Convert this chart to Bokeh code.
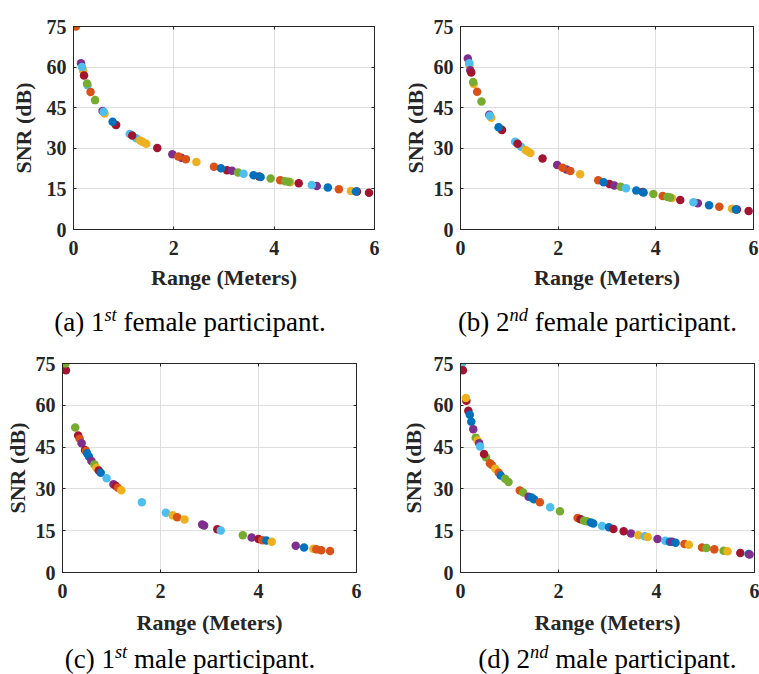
from bokeh.plotting import figure
from bokeh.models import (ColumnDataSource, LinearAxis, FixedTicker, Range1d, Div,
                          CustomJSTickFormatter)
from bokeh.layouts import column, row
from bokeh.transform import factor_cmap
from bokeh.embed import file_html
from bokeh.resources import INLINE

# MATLAB default colour order, indexed by measurement series id
PALETTE = ["#0072BD", "#D95319", "#EDB120", "#7E2F8E", "#77AC30", "#4DBEEE", "#A2142F"]
SERIES_IDS = ["0", "1", "2", "3", "4", "5", "6"]

X_TICKS = [0, 2, 4, 6]
Y_TICKS = [0, 15, 30, 45, 60, 75]
X_LABEL = "Range (Meters)"
Y_LABEL = "SNR (dB)"

# (a) 1st female participant
a_range = [0.05, 0.15, 0.19, 0.17, 0.21, 0.28, 0.27, 0.34, 0.43, 0.58, 0.62, 0.60,
           0.84, 0.85, 0.78, 1.12, 1.25, 1.17, 1.33, 1.38, 1.45, 1.67, 1.97, 2.15,
           2.09, 2.24, 2.45, 2.80, 3.06, 2.94, 3.16, 3.28, 3.39, 3.70, 3.59, 3.73,
           3.93, 4.12, 4.32, 4.22, 4.29, 4.49, 4.85, 4.75, 5.07, 5.29, 5.65, 5.53,
           5.63, 5.89]
a_snr = [75.0, 61.4, 58.7, 60.0, 56.9, 53.3, 53.9, 50.8, 47.8, 43.8, 42.9, 43.5,
         38.7, 38.6, 39.8, 35.3, 33.7, 34.7, 32.9, 32.3, 31.7, 30.1, 27.8, 26.5,
         27.0, 26.0, 24.9, 23.2, 21.9, 22.6, 21.7, 21.1, 20.6, 19.6, 20.0, 19.4,
         18.8, 18.2, 17.5, 17.8, 17.6, 17.1, 16.1, 16.4, 15.5, 14.9, 14.0, 14.2,
         14.0, 13.6]
a_series = [1, 3, 2, 5, 6, 5, 4, 1, 4, 3, 2, 5,
            4, 6, 0, 5, 5, 6, 2, 2, 2, 6, 3, 3,
            1, 1, 2, 1, 6, 0, 3, 4, 5, 6, 0, 0,
            4, 1, 2, 4, 4, 6, 3, 5, 0, 1, 6, 2,
            0, 6]

# (b) 2nd female participant
b_range = [0.15, 0.18, 0.18, 0.20, 0.22, 0.27, 0.26, 0.34, 0.43, 0.59, 0.63, 0.60,
           0.84, 0.85, 0.78, 1.12, 1.24, 1.17, 1.33, 1.38, 1.43, 1.68, 1.98, 2.17,
           2.09, 2.25, 2.45, 2.82, 3.05, 2.93, 3.15, 3.28, 3.39, 3.73, 3.60, 3.75,
           3.95, 4.14, 4.33, 4.24, 4.29, 4.50, 4.86, 4.77, 5.09, 5.30, 5.66, 5.56,
           5.64, 5.90]
b_snr = [63.2, 60.7, 61.4, 58.8, 58.0, 53.8, 54.5, 50.9, 47.3, 42.4, 41.3, 42.0,
         36.9, 36.8, 37.8, 32.4, 30.6, 31.7, 29.4, 28.8, 28.3, 26.2, 23.8, 22.2,
         22.8, 21.6, 20.4, 18.2, 16.8, 17.5, 16.3, 15.8, 15.2, 13.9, 14.4, 13.7,
         13.1, 12.4, 11.6, 12.0, 11.8, 10.9, 9.7, 10.1, 9.0, 8.4, 7.4, 7.7,
         7.4, 6.8]
b_series = [3, 2, 5, 3, 6, 2, 4, 1, 4, 3, 2, 5,
            4, 6, 0, 5, 5, 6, 2, 2, 2, 6, 3, 3,
            1, 1, 2, 1, 6, 0, 3, 4, 5, 6, 0, 0,
            4, 1, 2, 4, 4, 6, 3, 5, 0, 1, 6, 2,
            0, 6]

# (c) 1st male participant
c_range = [0.07, 0.06, 0.26, 0.32, 0.35, 0.39, 0.46, 0.48, 0.50, 0.54, 0.59, 0.65,
           0.69, 0.74, 0.78, 0.90, 1.04, 1.09, 1.13, 1.20, 1.62, 2.11, 2.25, 2.34,
           2.49, 2.85, 2.89, 3.16, 3.23, 3.68, 3.86, 4.00, 4.08, 4.16, 4.27, 4.76,
           4.93, 5.12, 5.18, 5.28, 5.46]
c_snr = [72.6, 75.0, 52.0, 49.2, 48.0, 46.4, 44.0, 43.6, 42.8, 41.6, 40.0, 38.8,
         37.6, 36.6, 35.8, 33.8, 31.7, 31.0, 30.4, 29.5, 25.2, 21.4, 20.5, 19.8,
         19.0, 17.2, 16.9, 15.5, 15.1, 13.4, 12.6, 12.0, 11.6, 11.5, 11.0, 9.6,
         9.0, 8.5, 8.3, 8.0, 7.7]
c_series = [6, 4, 4, 6, 1, 3, 6, 1, 0, 0, 3, 4,
            2, 6, 0, 5, 3, 6, 1, 2, 5, 5, 2, 1,
            2, 3, 3, 6, 5, 4, 3, 6, 1, 0, 2, 3,
            0, 2, 1, 1, 1]

# (d) 2nd male participant
d_range = [0.03, 0.05, 0.12, 0.11, 0.16, 0.19, 0.22, 0.26, 0.31, 0.35, 0.38, 0.40,
           0.52, 0.48, 0.60, 0.64, 0.71, 0.78, 0.82, 0.91, 0.98, 1.21, 1.28, 1.39,
           1.45, 1.50, 1.62, 1.83, 2.03, 2.39, 2.45, 2.52, 2.58, 2.66, 2.71, 2.89,
           3.03, 3.12, 3.33, 3.48, 3.63, 3.76, 3.82, 4.02, 4.18, 4.27, 4.32, 4.39,
           4.57, 4.66, 4.93, 5.02, 5.18, 5.37, 5.45, 5.71, 5.88, 5.90]
d_snr = [75.0, 72.6, 61.6, 62.6, 58.0, 56.6, 54.1, 51.4, 48.4, 47.4, 46.4, 45.2,
         41.4, 42.5, 39.2, 38.6, 37.2, 35.8, 34.8, 33.6, 32.5, 29.4, 28.7, 27.2,
         26.9, 26.3, 25.2, 23.4, 22.0, 19.6, 19.1, 18.6, 18.4, 17.9, 17.6, 16.7,
         16.2, 15.6, 14.8, 14.0, 13.4, 13.0, 12.7, 12.0, 11.4, 11.0, 11.0, 10.7,
         10.2, 10.0, 9.0, 8.8, 8.3, 7.8, 7.6, 7.0, 6.6, 6.5]
d_series = [5, 6, 6, 2, 6, 0, 0, 3, 4, 2, 3, 5,
            4, 6, 1, 1, 2, 1, 0, 4, 4, 1, 4, 3,
            0, 0, 1, 5, 4, 1, 6, 4, 4, 0, 0, 5,
            0, 6, 6, 3, 2, 5, 2, 3, 5, 0, 3, 0,
            1, 2, 1, 4, 1, 4, 2, 6, 0, 3]

CAPTIONS = [("(a) 1", "st", " female participant."),
            ("(b) 2", "nd", " female participant."),
            ("(c) 1", "st", " male participant."),
            ("(d) 2", "nd", " male participant.")]

INK = "#262626"
TICK_FONT = "Liberation Serif"


def panel(rng, snr, ser, width, height, left, right, top, bottom, ylab_standoff, xlab_standoff):
    p = figure(width=width, height=height, output_backend="svg", toolbar_location=None,
               x_range=Range1d(0, 6), y_range=Range1d(0, 75),
               min_border_left=left, min_border_right=right,
               min_border_top=top, min_border_bottom=bottom,
               background_fill_color="white", border_fill_color="white")
    blank = CustomJSTickFormatter(code="return ''")
    p.add_layout(LinearAxis(formatter=blank), "above")
    p.add_layout(LinearAxis(formatter=blank), "right")
    for ax in p.xaxis:
        ax.ticker = FixedTicker(ticks=X_TICKS)
    for ax in p.yaxis:
        ax.ticker = FixedTicker(ticks=Y_TICKS)
    p.xgrid.ticker = FixedTicker(ticks=X_TICKS)
    p.ygrid.ticker = FixedTicker(ticks=Y_TICKS)
    for ax in list(p.xaxis) + list(p.yaxis):
        ax.major_tick_in = 3
        ax.major_tick_out = 0
        ax.minor_tick_line_color = None
        ax.major_tick_line_color = INK
        ax.axis_line_color = INK
        ax.major_label_text_font = TICK_FONT
        ax.major_label_text_font_style = "bold"
        ax.major_label_text_font_size = "20px"
        ax.major_label_text_color = INK
        ax.axis_label_text_font = TICK_FONT
        ax.axis_label_text_font_style = "bold"
        ax.axis_label_text_font_size = "22px"
        ax.axis_label_text_color = INK
    for ax in p.above + p.right:
        ax.major_label_standoff = 0
    bx = p.below[0]
    bx.axis_label = X_LABEL
    bx.major_label_standoff = 11
    bx.axis_label_standoff = xlab_standoff
    ly = p.left[0]
    ly.axis_label = Y_LABEL
    ly.major_label_standoff = 7
    ly.axis_label_standoff = ylab_standoff
    p.grid.grid_line_color = "#dfdfdf"
    p.grid.grid_line_width = 1
    p.outline_line_color = INK
    p.outline_line_width = 1
    src = ColumnDataSource(dict(range=rng, snr=snr, series=[str(s) for s in ser]))
    p.scatter("range", "snr", source=src, size=8.5,
              fill_color=factor_cmap("series", PALETTE, SERIES_IDS), line_color=None)
    return p


def caption(parts, width, height, pad_left):
    pre, sup, post = parts
    html = ('<div style="width:%dpx;height:%dpx;box-sizing:border-box;padding-left:%dpx;'
            'text-align:center;line-height:%dpx;white-space:pre;'
            'font-family:\'Liberation Serif\';font-size:27px;color:#000;">'
            '<span>%s<sup style="font-style:italic;font-size:0.68em;line-height:0;">%s</sup>%s</span></div>'
            % (width, height, pad_left, height, pre, sup, post))
    return Div(text=html, width=width, height=height, margin=0)


fa = panel(a_range, a_snr, a_series, 380, 300, 73, 6, 22, 71, 8, 7)
fb = panel(b_range, b_snr, b_series, 379, 300, 80, 6, 26, 66, 3, 7)
fc = panel(c_range, c_snr, c_series, 380, 300, 62, 24, 18, 73, 3, 9)
fd = panel(d_range, d_snr, d_series, 379, 300, 80, 5, 18, 73, 5, 9)

ca = caption(CAPTIONS[0], 380, 45, 0)
cb = caption(CAPTIONS[1], 379, 45, 56)
cc = caption(CAPTIONS[2], 380, 29, 0)
cd = caption(CAPTIONS[3], 379, 29, 76)

layout = column(row(fa, fb, spacing=0), row(ca, cb, spacing=0),
                row(fc, fd, spacing=0), row(cc, cd, spacing=0), spacing=0)

open("out.html", "w").write(file_html(layout, INLINE))
